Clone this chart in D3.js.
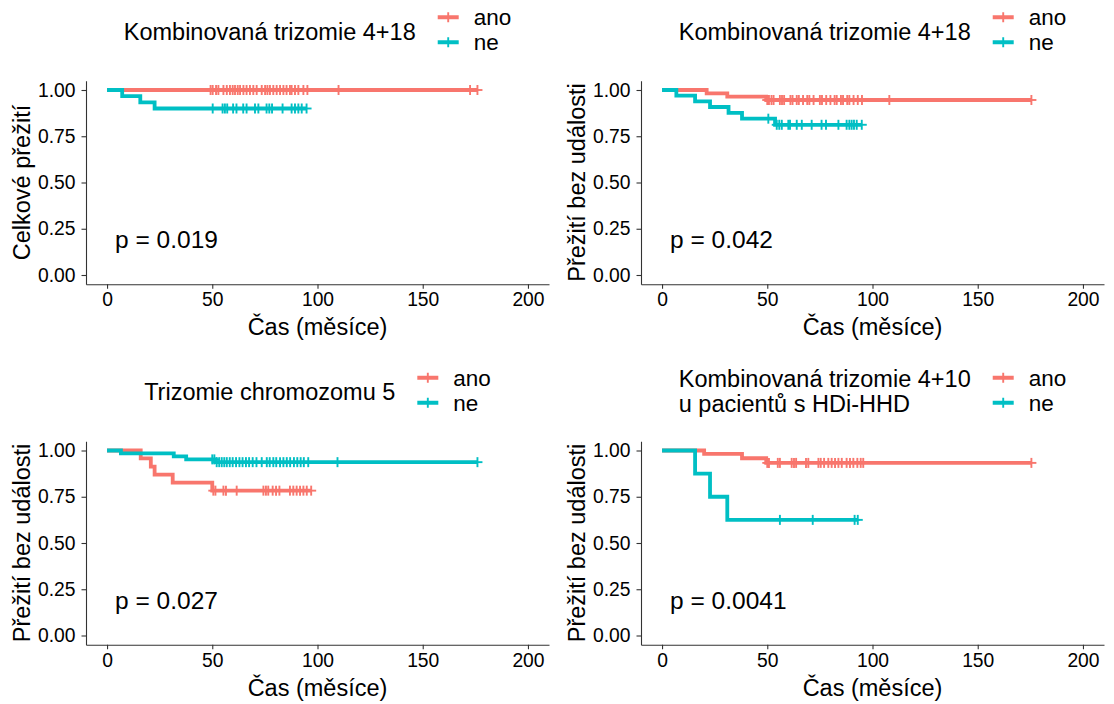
<!DOCTYPE html>
<html>
<head>
<meta charset="utf-8">
<script src="https://cdn.jsdelivr.net/npm/d3@7"></script>
<style>
  html, body { margin: 0; padding: 0; background: #ffffff; }
  svg { display: block; font-family: "Liberation Sans", Arial, sans-serif; }
</style>
</head>
<body>
<svg id="chart" width="1114" height="704"></svg>
<script>
// ---- shared axis values ----
const xTicks = [0, 50, 100, 150, 200];
const yTicks = [0, 0.25, 0.5, 0.75, 1];
const groupLabels = ["ano", "ne"];
const groupColors = ["#F8766D", "#00BFC4"];

// ---- panel A: overall survival, combined trisomy 4+18 ----
const osT418AnoTimes = [0];
const osT418AnoSurv = [1];
const osT418AnoCensor = [49.2, 50.2, 51.8, 52.9, 55.3, 56.9, 58.4, 59.7, 60.8, 62.1, 63.2, 64.8, 66.3, 67.9,
  69.5, 71.1, 73.5, 75.1, 76.2, 77.4, 79, 80.6, 82.2, 83.8, 85.3, 86.9, 87.7, 89.3, 90.9, 93.3, 95.2,
  110, 172.5, 176];
const osT418NeTimes = [0, 7.2, 15.8, 22.6];
const osT418NeSurv = [1, 0.967, 0.933, 0.9];
const osT418NeCensor = [50.2, 54.9, 56, 57.1, 59.9, 61.5, 64.7, 66.3, 70.3, 71.9, 75.8, 77.1, 78.4, 83.4,
  87.7, 89.3, 90.9, 92.5, 94.8];

// ---- panel B: event-free survival, combined trisomy 4+18 ----
const efsT418AnoTimes = [0, 21.2, 31, 49.5];
const efsT418AnoSurv = [1, 0.982, 0.964, 0.946];
const efsT418AnoCensor = [50, 50.8, 52, 53, 56, 57, 58, 61, 62, 64, 65, 67, 69, 70, 72, 75, 76, 78, 80, 82,
  83, 85, 86, 88, 89, 91, 93, 95, 108, 175.5];
const efsT418NeTimes = [0, 6.8, 15.7, 22.8, 31.6, 38, 53.7];
const efsT418NeSurv = [1, 0.97, 0.938, 0.908, 0.876, 0.845, 0.812];
const efsT418NeCensor = [50.5, 54.5, 55.7, 56.9, 60, 60.8, 64, 66.4, 71.1, 75.8, 77.9, 83.8, 87.7, 89,
  90.1, 91.2, 92.5, 94.9];

// ---- panel C: event-free survival, trisomy of chromosome 5 ----
const efsT5AnoTimes = [0, 16, 20.8, 22.6, 31.2, 50];
const efsT5AnoSurv = [1, 0.957, 0.913, 0.87, 0.826, 0.783];
const efsT5AnoCensor = [50.5, 51.5, 55.3, 56.5, 61.6, 74.3, 75.5, 76.6, 78.7, 80.3, 81.9, 86.9, 88.5,
  90.1, 91.7, 93.3, 94.9, 97];
const efsT5NeTimes = [0, 6.6, 31.7, 37.6, 51.5];
const efsT5NeSurv = [1, 0.984, 0.968, 0.952, 0.937];
const efsT5NeCensor = [50, 51, 52.1, 53.3, 54.5, 55.7, 56.9, 58.3, 59.7, 61.3, 62.9, 64.4, 66, 67.5, 69.2,
  71, 73.5, 75.9, 77.3, 79, 80.4, 82.2, 83.8, 85.4, 87, 88.8, 90.4, 92, 93.5, 95.6, 109.5, 176];

// ---- panel D: event-free survival, combined trisomy 4+10 in HDi-HHD ----
const efsT410AnoTimes = [0, 20, 38, 49.5];
const efsT410AnoSurv = [1, 0.982, 0.958, 0.933];
const efsT410AnoCensor = [50, 50.8, 55, 56, 61.6, 62.7, 63.7, 68.4, 69.5, 74.3, 75.4, 77, 79, 80.6, 82.2,
  83.8, 85.4, 87.7, 89.3, 90.9, 92.8, 94.4, 95.6, 175.5];
const efsT410NeTimes = [0, 15.7, 22.8, 31];
const efsT410NeSurv = [1, 0.875, 0.75, 0.625];
const efsT410NeCensor = [56, 71.6, 91.5, 93];

// ---- panel texts ----
const panelTitles = [
  ["Kombinovaná trizomie 4+18"],
  ["Kombinovaná trizomie 4+18"],
  ["Trizomie chromozomu 5"],
  ["Kombinovaná trizomie 4+10", "u pacientů s HDi-HHD"]
];
const yAxisTitles = ["Celkové přežití", "Přežití bez události", "Přežití bez události", "Přežití bez události"];
const xAxisTitle = "Čas (měsíce)";
const pValueLabels = ["p = 0.019", "p = 0.042", "p = 0.027", "p = 0.0041"];

const panelCurves = [
  [[osT418AnoTimes, osT418AnoSurv, osT418AnoCensor], [osT418NeTimes, osT418NeSurv, osT418NeCensor]],
  [[efsT418AnoTimes, efsT418AnoSurv, efsT418AnoCensor], [efsT418NeTimes, efsT418NeSurv, efsT418NeCensor]],
  [[efsT5AnoTimes, efsT5AnoSurv, efsT5AnoCensor], [efsT5NeTimes, efsT5NeSurv, efsT5NeCensor]],
  [[efsT410AnoTimes, efsT410AnoSurv, efsT410AnoCensor], [efsT410NeTimes, efsT410NeSurv, efsT410NeCensor]]
];

// ---- layout ----
const colLeft = [86, 641];
const plotWidth = 463;
const rowTop = [80.75, 441.25];
const plotHeight = 203.5;
const pValuePos = { t: 3.8, s: 0.2 };

const svg = d3.select("#chart");
svg.append("rect").attr("width", 1114).attr("height", 704).attr("fill", "#ffffff");

function stepSurv(times, surv, t) {
  let s = surv[0];
  for (let i = 0; i < times.length; i++) if (times[i] <= t) s = surv[i];
  return s;
}

panelCurves.forEach((curves, pi) => {
  const col = pi % 2, row = Math.floor(pi / 2);
  const x0 = colLeft[col], y0 = rowTop[row];
  const x = d3.scaleLinear().domain([-10, 210]).range([x0, x0 + plotWidth]);
  const y = d3.scaleLinear().domain([-0.05, 1.05]).range([y0 + plotHeight, y0]);
  const g = svg.append("g");

  // axes
  const xAxis = g.append("g")
    .attr("transform", `translate(0,${y0 + plotHeight})`)
    .call(d3.axisBottom(x).tickValues(xTicks).tickSize(4.5).tickSizeOuter(0).tickPadding(4));
  const yAxis = g.append("g")
    .attr("transform", `translate(${x0},0)`)
    .call(d3.axisLeft(y).tickValues(yTicks).tickFormat(d3.format(".2f")).tickSize(4.5).tickSizeOuter(0).tickPadding(6));
  [xAxis, yAxis].forEach(a => {
    a.select(".domain").attr("stroke", "#333").attr("stroke-width", 1.1);
    a.selectAll(".tick line").attr("stroke", "#333").attr("stroke-width", 1.1);
    a.selectAll(".tick text").attr("fill", "#000").attr("font-size", 19.3)
      .attr("font-family", "Liberation Sans, Arial, sans-serif");
  });

  // survival curves: "ano" first, "ne" drawn on top
  curves.forEach(([times, surv, censor], gi) => {
    const end = Math.max(times[times.length - 1], d3.max(censor));
    const pts = times.map((t, i) => [t, surv[i]]);
    pts.push([end, surv[surv.length - 1]]);
    const line = d3.line().x(d => x(d[0])).y(d => y(d[1])).curve(d3.curveStepAfter);
    g.append("path").attr("d", line(pts)).attr("fill", "none")
      .attr("stroke", groupColors[gi]).attr("stroke-width", 3.8).attr("stroke-linejoin", "miter");
    const marks = g.append("g").attr("stroke", groupColors[gi]).attr("stroke-width", 1.9);
    censor.forEach(t => {
      const cx = x(t), cy = y(stepSurv(times, surv, t));
      marks.append("line").attr("x1", cx).attr("x2", cx).attr("y1", cy - 5).attr("y2", cy + 5);
      marks.append("line").attr("x1", cx - 5).attr("x2", cx + 5).attr("y1", cy).attr("y2", cy);
    });
  });

  // p-value annotation
  g.append("text").attr("x", x(pValuePos.t)).attr("y", y(pValuePos.s)).attr("dy", "0.42em")
    .attr("font-size", 24.5).attr("fill", "#000").text(pValueLabels[pi]);

  // axis titles
  g.append("text").attr("x", x0 + plotWidth / 2).attr("y", y0 + plotHeight + 51)
    .attr("text-anchor", "middle").attr("font-size", 23.5).attr("fill", "#000").text(xAxisTitle);
  g.append("text").attr("transform", `translate(${x0 - 56.5},${y0 + plotHeight / 2}) rotate(-90)`)
    .attr("text-anchor", "middle").attr("font-size", 23.5).attr("fill", "#000").text(yAxisTitles[pi]);

  // legend above the panel
  const leg = g.append("g");
  const rowY = [y0 - 63.5, y0 - 38.5];
  const titleLines = panelTitles[pi];
  const titleText = leg.append("g");
  titleLines.forEach((s, li) => {
    const ty = titleLines.length === 1 ? (rowY[0] + rowY[1]) / 2 + 1.5 : rowY[li] + 1;
    titleText.append("text").attr("x", 0).attr("y", ty).attr("dy", "0.36em")
      .attr("font-size", 23.5).attr("fill", "#000").text(s);
  });
  const titleW = d3.max(titleText.selectAll("text").nodes(), n => n.getComputedTextLength());
  const keyX = titleW + 22, keyW = 21, labelX = keyX + keyW + 15;
  groupLabels.forEach((lab, gi) => {
    const ky = rowY[gi];
    leg.append("line").attr("x1", keyX).attr("x2", keyX + keyW).attr("y1", ky).attr("y2", ky)
      .attr("stroke", groupColors[gi]).attr("stroke-width", 4);
    leg.append("line").attr("x1", keyX + keyW / 2).attr("x2", keyX + keyW / 2).attr("y1", ky - 5).attr("y2", ky + 5)
      .attr("stroke", groupColors[gi]).attr("stroke-width", 1.9);
    leg.append("text").attr("class", "lab").attr("x", labelX).attr("y", ky + 1).attr("dy", "0.3em")
      .attr("font-size", 22.5).attr("fill", "#000").text(lab);
  });
  const labW = d3.max(leg.selectAll("text.lab").nodes(), n => n.getComputedTextLength());
  const totalW = labelX + labW;
  leg.attr("transform", `translate(${x0 + plotWidth / 2 - totalW / 2},0)`);
});
</script>
</body>
</html>
